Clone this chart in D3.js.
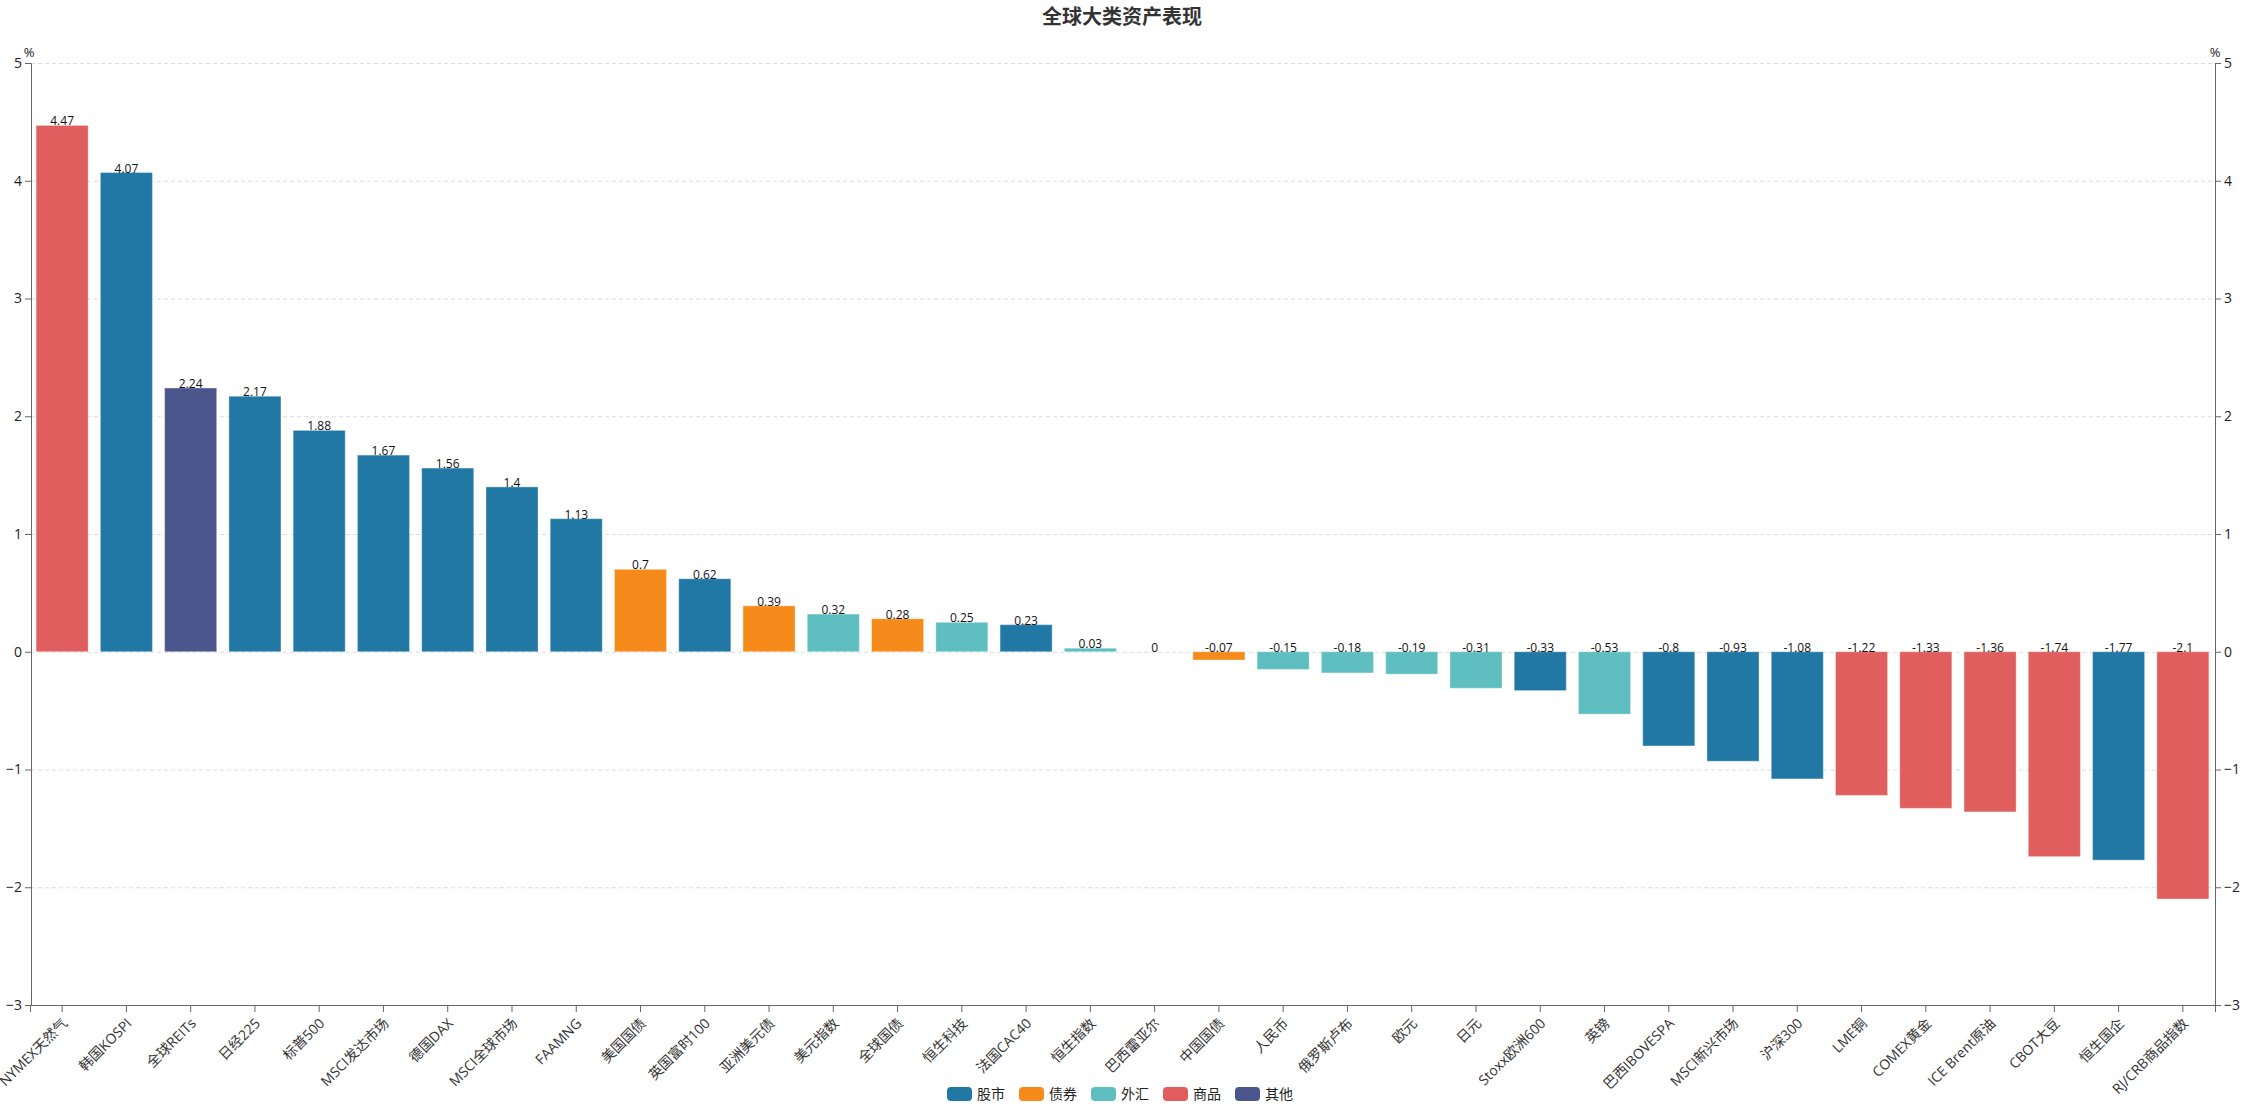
<!DOCTYPE html>
<html>
<head>
<meta charset="utf-8">
<script src="https://cdn.jsdelivr.net/npm/d3@7"></script>
<style>
  body { margin: 0; background: #fff; }
  svg text { font-family: "Open Sans", "Noto Sans CJK SC", sans-serif; }
</style>
</head>
<body>
<div id="chart"></div>
<script>
const categories = ["NYMEX天然气", "韩国KOSPI", "全球REITs", "日经225", "标普500", "MSCI发达市场", "德国DAX",
  "MSCI全球市场", "FAAMNG", "美国国债", "英国富时100", "亚洲美元债", "美元指数", "全球国债", "恒生科技",
  "法国CAC40", "恒生指数", "巴西雷亚尔", "中国国债", "人民币", "俄罗斯卢布", "欧元", "日元", "Stoxx欧洲600",
  "英镑", "巴西IBOVESPA", "MSCI新兴市场", "沪深300", "LME铜", "COMEX黄金", "ICE Brent原油", "CBOT大豆",
  "恒生国企", "RJ/CRB商品指数"];
const values = [4.47, 4.07, 2.24, 2.17, 1.88, 1.67, 1.56, 1.4, 1.13, 0.7, 0.62, 0.39, 0.32, 0.28, 0.25,
  0.23, 0.03, 0, -0.07, -0.15, -0.18, -0.19, -0.31, -0.33, -0.53, -0.8, -0.93, -1.08, -1.22, -1.33, -1.36,
  -1.74, -1.77, -2.1];
const groups = ["商品", "股市", "其他", "股市", "股市", "股市", "股市", "股市", "股市", "债券", "股市", "债券",
  "外汇", "债券", "外汇", "股市", "外汇", "外汇", "债券", "外汇", "外汇", "外汇", "外汇", "股市", "外汇", "股市",
  "股市", "股市", "商品", "商品", "商品", "商品", "股市", "商品"];
const legendNames = ["股市", "债券", "外汇", "商品", "其他"];
const yTicks = [-3, -2, -1, 0, 1, 2, 3, 4, 5];

const width = 2259;
const height = 1114;
const plotLeft = 31, plotRight = 2215, plotTop = 63, plotBottom = 1005;
const fontStack = '"Open Sans", "Noto Sans CJK SC", sans-serif';

const color = d3.scaleOrdinal()
  .domain(legendNames)
  .range(["#2278a4", "#f68a1a", "#5fbfc0", "#e05e5e", "#4a568c"]);

const svg = d3.select("#chart").append("svg")
  .attr("width", width)
  .attr("height", height);

const x = d3.scaleBand()
  .domain(categories)
  .range([plotLeft - 1, plotRight])
  .paddingInner(0.19)
  .paddingOuter(0.095);

const y = d3.scaleLinear()
  .domain([-3, 5])
  .range([plotBottom, plotTop]);

// title
svg.append("text")
  .attr("x", 1122)
  .attr("y", 24)
  .attr("text-anchor", "middle")
  .attr("font-size", 20)
  .attr("font-weight", "bold")
  .attr("fill", "#333")
  .style("font-family", '"Noto Sans CJK SC", sans-serif')
  .text("全球大类资产表现");

// grid lines
svg.append("g")
  .selectAll("line")
  .data(yTicks.filter(d => d !== -3))
  .enter()
  .append("line")
  .attr("x1", plotLeft)
  .attr("x2", plotRight)
  .attr("y1", d => y(d) + 0.5)
  .attr("y2", d => y(d) + 0.5)
  .attr("stroke", "#dcdcdc")
  .attr("stroke-dasharray", "4,3");

// bars
const data = categories.map((c, i) => ({ name: c, value: values[i], group: groups[i] }));

svg.append("g")
  .selectAll("rect")
  .data(data)
  .enter()
  .append("rect")
  .attr("x", d => x(d.name))
  .attr("width", x.bandwidth())
  .attr("y", d => y(Math.max(0, d.value)))
  .attr("height", d => Math.abs(y(d.value) - y(0)))
  .attr("fill", d => color(d.group))
  .attr("stroke", "#fff")
  .attr("stroke-opacity", 0.35)
  .attr("stroke-width", 1);

// value labels
svg.append("g")
  .selectAll("text")
  .data(data)
  .enter()
  .append("text")
  .attr("x", d => x(d.name) + x.bandwidth() / 2)
  .attr("y", d => y(Math.max(0, d.value)))
  .attr("text-anchor", "middle")
  .attr("font-size", 12)
  .attr("fill", "#111")
  .text(d => d.value);

// axes
const yLeft = svg.append("g")
  .attr("transform", `translate(${plotLeft},0)`)
  .call(d3.axisLeft(y).tickValues(yTicks).tickSize(6).tickPadding(3));

const yRight = svg.append("g")
  .attr("transform", `translate(${plotRight},0)`)
  .call(d3.axisRight(y).tickValues(yTicks).tickSize(6).tickPadding(3));

const xAxis = svg.append("g")
  .attr("transform", `translate(0,${plotBottom})`)
  .call(d3.axisBottom(x).tickSize(7).tickPadding(4));

[yLeft, yRight, xAxis].forEach(g => {
  g.select(".domain").attr("stroke", "#666");
  g.selectAll(".tick line").attr("stroke", "#666");
  g.selectAll(".tick text").attr("fill", "#222").attr("font-size", 14)
    .style("font-family", fontStack);
});

xAxis.selectAll(".tick text")
  .attr("font-size", 14)
  .attr("fill", "#333")
  .attr("text-anchor", "end")
  .attr("dy", "0.35em")
  .attr("transform", "translate(-5,8) rotate(-45)");

// unit labels
svg.append("text")
  .attr("x", plotLeft - 2)
  .attr("y", 57)
  .attr("text-anchor", "middle")
  .attr("font-size", 13)
  .attr("fill", "#222")
  .text("%");

svg.append("text")
  .attr("x", plotRight)
  .attr("y", 57)
  .attr("text-anchor", "middle")
  .attr("font-size", 13)
  .attr("fill", "#222")
  .text("%");

// legend
const legend = svg.append("g")
  .attr("transform", "translate(947,1087)");

const item = legend.selectAll("g")
  .data(legendNames)
  .enter()
  .append("g")
  .attr("transform", (d, i) => `translate(${i * 72},0)`);

item.append("rect")
  .attr("width", 25)
  .attr("height", 14)
  .attr("rx", 4)
  .attr("fill", d => color(d));

item.append("text")
  .attr("x", 30)
  .attr("y", 12)
  .attr("font-size", 14)
  .attr("fill", "#222")
  .text(d => d);
</script>
</body>
</html>
